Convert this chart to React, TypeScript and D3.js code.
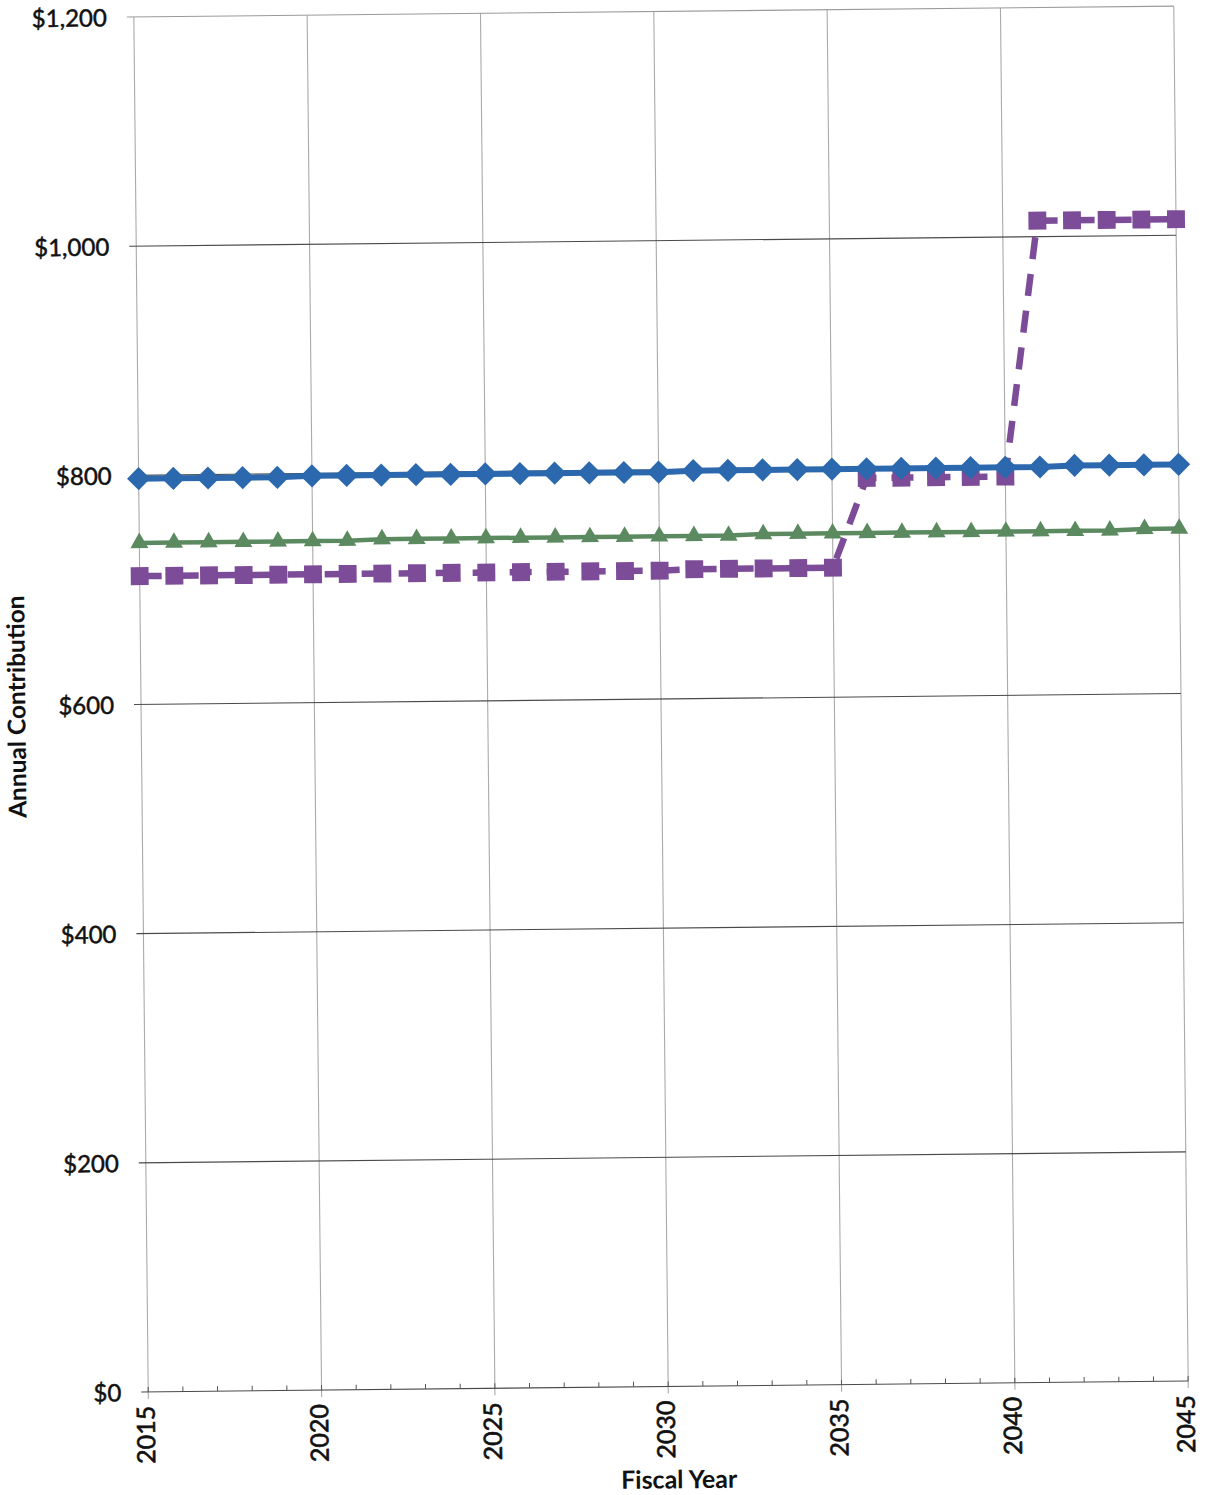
import React from "react";
import * as d3 from "d3";

// Fiscal years on the x axis
const years: number[] = [
  2015, 2016, 2017, 2018, 2019, 2020, 2021, 2022, 2023, 2024, 2025,
  2026, 2027, 2028, 2029, 2030, 2031, 2032, 2033, 2034, 2035,
  2036, 2037, 2038, 2039, 2040, 2041, 2042, 2043, 2044, 2045,
];

// Annual contribution series (dollars)
const seriesDiamond: number[] = [
  797, 797, 797, 797, 797, 798, 798, 798, 798, 798, 798,
  798, 798, 798, 798, 798, 799, 799, 799, 799, 799,
  799, 799, 799, 799, 799, 799, 800, 800, 800, 800,
];
const seriesTriangle: number[] = [
  741, 741, 741, 741, 741, 741, 741, 742, 742, 742, 742,
  742, 742, 742, 742, 742, 742, 742, 743, 743, 743,
  743, 743, 743, 743, 743, 743, 743, 743, 744, 744,
];
const seriesSquare: number[] = [
  712, 712, 712, 712, 712, 712, 712, 712, 712, 712, 712,
  712, 712, 712, 712, 712, 713, 713, 713, 713, 713,
  791, 791, 791, 791, 791, 1014, 1014, 1014, 1014, 1014,
];

const yTicks: number[] = [0, 200, 400, 600, 800, 1000, 1200];
const xTicks: number[] = [2015, 2020, 2025, 2030, 2035, 2040, 2045];

const W = 1210;
const H = 1495;
const plot = { left: 141, right: 1181, top: 11.5, bottom: 1386.5 };
const FONT = "Lato, 'Open Sans', 'DejaVu Sans', sans-serif";

const BLUE = "#2b68ad";
const GREEN = "#5c8a60";
const PURPLE = "#7d4c98";

export default function App() {
  const x = d3.scaleLinear().domain([2015, 2045]).range([plot.left, plot.right]);
  const y = d3.scaleLinear().domain([0, 1200]).range([plot.bottom, plot.top]);

  const line = d3
    .line<number>()
    .x((_, i) => x(years[i]))
    .y((v) => y(v));

  const diamond = d3.symbol(d3.symbolSquare, 270)() as string;
  const triangle = d3.symbol(d3.symbolTriangle, 140)() as string;
  const square = d3.symbol(d3.symbolSquare, 320)() as string;

  return (
    <svg
      width={W}
      height={H}
      style={{ position: "absolute", left: 0, top: 0, background: "#fff" }}
    >
      <rect x={0} y={0} width={W} height={H} fill="#fff" />
      <g transform="rotate(-0.6, 661, 699)">
        {/* vertical gridlines */}
        {xTicks.map((t) => (
          <line
            key={"vx" + t}
            x1={x(t)}
            x2={x(t)}
            y1={plot.top}
            y2={plot.bottom + 7}
            stroke="#aaaaaa"
            strokeWidth={1.1}
          />
        ))}
        {/* horizontal gridlines */}
        {yTicks.map((t) => (
          <line
            key={"hy" + t}
            x1={plot.left - 7}
            x2={plot.right}
            y1={y(t)}
            y2={y(t)}
            stroke={t === 1200 ? "#9a9a9a" : "#4a4a4a"}
            strokeWidth={1.1}
          />
        ))}
        {/* minor x ticks each year */}
        {years.map((t) => (
          <line
            key={"mt" + t}
            x1={x(t)}
            x2={x(t)}
            y1={plot.bottom}
            y2={plot.bottom - 5}
            stroke="#555"
            strokeWidth={1}
          />
        ))}
        {/* y tick labels */}
        {yTicks.map((t) => (
          <text
            key={"yl" + t}
            x={plot.left - 27}
            y={y(t) + 3}
            textAnchor="end"
            dominantBaseline="middle"
            fontFamily={FONT}
            fontSize={24}
            fill="#111"
            stroke="#111"
            strokeWidth={0.5}
          >
            {d3.format("$,")(t)}
          </text>
        ))}
        {/* x tick labels */}
        {xTicks.map((t) => (
          <text
            key={"xl" + t}
            transform={`translate(${x(t)},${plot.bottom + 14}) rotate(-90)`}
            textAnchor="end"
            dominantBaseline="middle"
            fontFamily={FONT}
            fontSize={25}
            fill="#111"
            stroke="#111"
            strokeWidth={0.6}
          >
            {t}
          </text>
        ))}
        {/* axis titles */}
        <text
          transform="translate(19,700) rotate(-90)"
          textAnchor="middle"
          dominantBaseline="middle"
          fontFamily={FONT}
          fontWeight={700}
          fontSize={24.5}
          fill="#111"
        >
          Annual Contribution
        </text>
        <text
          x={671}
          y={1482}
          textAnchor="middle"
          dominantBaseline="middle"
          fontFamily={FONT}
          fontWeight={700}
          fontSize={25}
          fill="#111"
        >
          Fiscal Year
        </text>

        {/* dashed square series */}
        <path
          d={line(seriesSquare) as string}
          fill="none"
          stroke={PURPLE}
          strokeWidth={6.5}
          strokeDasharray="22 15"
        />
        {seriesSquare.map((v, i) => (
          <path
            key={"sq" + i}
            d={square}
            transform={`translate(${x(years[i])},${y(v)})`}
            fill={PURPLE}
          />
        ))}

        {/* triangle series */}
        <path
          d={line(seriesTriangle) as string}
          fill="none"
          stroke={GREEN}
          strokeWidth={4.5}
        />
        {seriesTriangle.map((v, i) => (
          <path
            key={"tr" + i}
            d={triangle}
            transform={`translate(${x(years[i])},${y(v)})`}
            fill={GREEN}
          />
        ))}

        {/* diamond series */}
        <path
          d={line(seriesDiamond) as string}
          fill="none"
          stroke={BLUE}
          strokeWidth={6}
        />
        {seriesDiamond.map((v, i) => (
          <path
            key={"dm" + i}
            d={diamond}
            transform={`translate(${x(years[i])},${y(v)}) rotate(45)`}
            fill={BLUE}
          />
        ))}
      </g>
    </svg>
  );
}
